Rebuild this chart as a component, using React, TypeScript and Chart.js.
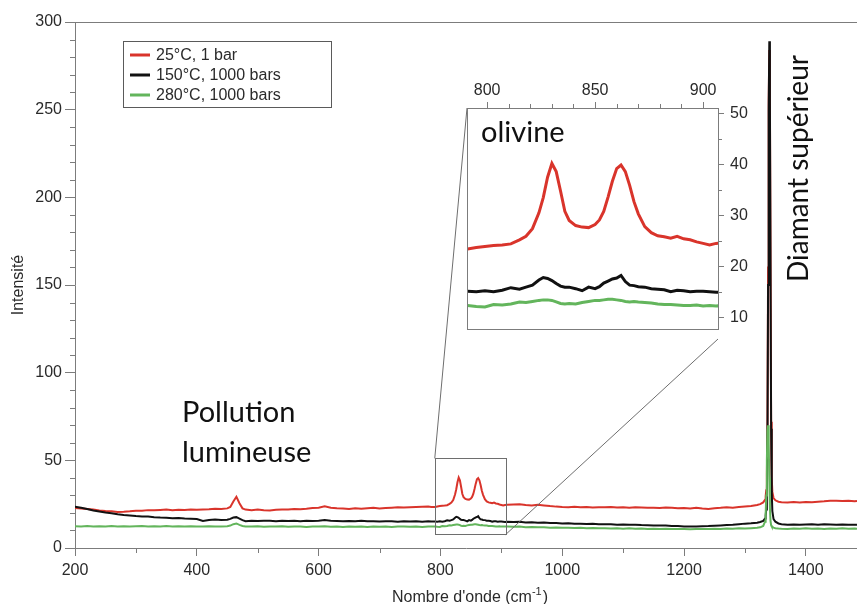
import React, { useEffect, useRef } from 'react';
import { Chart, registerables } from 'chart.js';

Chart.register(...registerables);

// ---------------- DATA ----------------
const wavenumbers = [
  200, 210, 220, 230, 240, 250, 260, 270, 280, 290,
  300, 310, 320, 330, 340, 350, 360, 370, 380, 390,
  400, 410, 420, 430, 440, 450, 455, 460, 465, 470, 475,
  480, 490, 500, 510, 520, 530, 540, 550, 560, 570,
  580, 590, 600, 610, 620, 630, 640, 650, 660, 670,
  680, 690, 700, 710, 720, 730, 740, 750, 760, 770, 780, 785,
  791, 795, 799, 803, 807, 811, 815, 818, 821, 824, 826,
  828, 830, 832, 834, 836, 838, 841, 844, 847, 850, 852,
  854, 856, 858, 860, 862, 864, 866, 868, 870, 873, 876,
  879, 882, 885, 888, 891, 894, 897, 900, 903, 906,
  910, 920, 930, 940, 950, 960, 970, 980, 990, 1000,
  1010, 1020, 1030, 1040, 1050, 1060, 1070, 1080, 1090, 1100,
  1110, 1120, 1130, 1140, 1150, 1160, 1170, 1180, 1190, 1200,
  1210, 1220, 1230, 1240, 1250, 1260, 1270, 1280, 1290, 1300,
  1310, 1320, 1325, 1330, 1333, 1334, 1335, 1336, 1337, 1338, 1339,
  1340, 1341, 1342, 1343, 1344, 1345, 1347, 1350, 1355,
  1360, 1370, 1380, 1390, 1400, 1410, 1420, 1430, 1440, 1450, 1460, 1470, 1480, 1484,
];

const intensity25C = [
  22.8, 22.5, 22.2, 21.9, 21.4, 21.1, 20.9, 20.6, 20.7, 20.9,
  21.3, 21.2, 21.6, 21.5, 21.7, 21.9, 21.6, 21.8, 21.7, 21.9,
  21.8, 22.0, 22.1, 22.4, 22.2, 22.6, 23.4, 26.5, 29.2, 25.5, 22.6,
  21.9, 21.6, 21.9, 21.5, 21.4, 21.8, 22.0, 21.9, 22.3, 22.1,
  22.4, 22.8, 23.0, 23.8, 23.0, 22.7, 22.5, 22.3, 22.6, 22.4,
  22.7, 22.9, 22.6, 22.8, 23.0, 23.2, 23.1, 23.3, 23.4, 23.5, 23.6, 23.4,
  23.4, 23.7, 23.9, 24.1, 24.2, 24.4, 25.2, 25.9, 27.4, 30.5, 33.5,
  37.5, 40.2, 38.6, 34.8, 30.8, 29.0, 28.0, 27.7, 27.6, 28.2, 29.1,
  30.8, 33.6, 36.7, 39.2, 39.9, 38.6, 35.9, 32.7, 30.3, 27.8, 26.6,
  26.0, 25.8, 25.5, 25.9, 25.4, 25.2, 24.8, 24.5, 24.2, 24.5,
  24.6, 24.8, 25.0, 24.5, 24.3, 24.6, 24.3, 23.9, 23.6, 23.4,
  23.3, 23.5, 23.2, 23.4, 23.1, 23.3, 23.2, 23.4, 23.1, 23.3,
  23.0, 23.2, 23.1, 22.9, 23.0, 22.8, 23.1, 22.9, 22.7, 22.8,
  22.6, 22.9, 22.5, 22.3, 22.7, 22.9, 23.2, 23.0, 23.4, 23.7,
  24.0, 24.5, 25.0, 26.0, 27.5, 29.5, 33.0, 42.0, 70.0, 160, 255,
  284, 258, 165, 72, 40, 32, 28.5, 27.2, 26.4,
  26.1, 26.0, 26.2, 26.0, 26.3, 26.1, 26.4, 26.6, 27.0, 26.9, 26.8, 26.9, 26.7, 26.8,
];

const intensity150C = [
  23.6, 22.9, 22.2, 21.4, 20.8, 20.2, 19.8, 19.2, 18.8, 18.6,
  18.2, 18.0, 17.9, 17.6, 17.4, 17.3, 17.0, 17.1, 16.8, 16.7,
  16.5, 15.4, 16.0, 16.2, 16.0, 16.1, 16.6, 17.4, 17.6, 16.8, 15.9,
  15.3, 15.6, 15.4, 15.6, 15.5, 15.3, 15.6, 15.4, 15.6, 15.3,
  15.5, 15.4, 15.6, 15.9, 15.5, 15.4, 15.2, 15.4, 15.3, 15.5,
  15.2, 15.3, 15.1, 15.3, 15.2, 15.0, 15.3, 15.1, 15.2, 15.0, 15.2, 15.1,
  15.1, 15.0, 15.2, 15.0, 15.3, 15.8, 15.5, 15.9, 16.3, 17.3, 17.8,
  17.6, 17.2, 16.6, 16.1, 15.9, 15.9, 15.6, 15.2, 15.9, 15.6, 16.0,
  16.7, 17.1, 17.5, 17.7, 18.2, 17.0, 16.3, 16.2, 16.0, 15.9, 15.6,
  15.5, 15.4, 15.0, 15.3, 15.2, 15.0, 15.1, 15.1, 15.0, 14.9,
  15.0, 14.8, 14.9, 14.6, 14.7, 14.4, 14.5, 14.3, 14.2, 14.0,
  14.1, 13.8, 13.9, 13.7, 13.8, 13.6, 13.5, 13.6, 13.3, 13.4,
  13.2, 13.3, 13.1, 13.0, 12.9, 12.8, 12.9, 12.6, 12.5, 12.3,
  12.2, 12.3, 12.4, 12.5, 12.7, 12.9, 13.1, 13.3, 13.6, 13.9,
  14.1, 14.4, 14.8, 15.5, 16.8, 18.5, 22.0, 30.0, 60.0, 150, 250,
  289, 255, 160, 68, 32, 21, 16.5, 15.0, 14.0,
  13.6, 13.3, 13.4, 13.2, 13.4, 13.5, 13.3, 13.5, 13.4, 13.2, 13.4, 13.3, 13.2, 13.3,
];

const intensity280C = [
  12.4, 12.3, 12.5, 12.2, 12.4, 12.3, 12.5, 12.3, 12.4, 12.2,
  12.4, 12.6, 12.3, 12.4, 12.2, 12.5, 12.3, 12.4, 12.2, 12.4,
  12.3, 12.2, 12.4, 12.3, 12.2, 12.4, 12.8, 13.6, 14.0, 13.2, 12.6,
  12.3, 12.2, 12.4, 12.1, 12.3, 12.2, 12.4, 12.1, 12.3, 12.2,
  12.0, 12.3, 12.2, 12.4, 12.1, 12.2, 12.0, 12.3, 12.1, 12.2,
  12.0, 12.3, 12.1, 12.2, 12.0, 12.2, 12.3, 12.1, 12.2, 12.0, 12.2, 12.3,
  12.3, 12.1, 12.0, 12.5, 12.4, 12.6, 13.0, 12.9, 13.1, 13.3, 13.4,
  13.4, 13.3, 13.0, 12.7, 12.6, 12.7, 12.6, 12.9, 13.1, 13.3, 13.3,
  13.4, 13.5, 13.5, 13.4, 13.3, 13.1, 13.0, 13.1, 13.0, 12.9, 12.8,
  12.6, 12.5, 12.5, 12.4, 12.3, 12.3, 12.4, 12.2, 12.3, 12.2,
  12.3, 12.1, 12.2, 11.9, 12.0, 11.8, 11.9, 11.6, 11.7, 11.5,
  11.6, 11.4, 11.5, 11.3, 11.4, 11.2, 11.3, 11.1, 11.2, 11.0,
  11.2, 11.0, 11.1, 10.9, 11.0, 10.8, 11.0, 10.9, 10.8, 10.9,
  10.7, 10.9, 10.8, 10.9, 11.0, 10.9, 11.1, 11.0, 11.2, 11.1,
  11.3, 11.5, 11.8, 12.6, 15.0, 19.0, 30.0, 50.0, 67.0, 70.0, 60.0,
  40.0, 23.0, 15.5, 13.0, 12.3, 12.0, 11.6, 11.3, 11.1,
  11.0, 10.9, 11.1, 11.0, 11.2, 11.0, 11.1, 10.9, 11.1, 11.0, 11.2, 11.0, 11.1, 11.0,
];

const seriesLabels = ['25°C, 1 bar', '150°C, 1000 bars', '280°C, 1000 bars'];
const seriesColors = ['#d9342b', '#111111', '#63b55c'];

const mainXTicks = [200, 400, 600, 800, 1000, 1200, 1400];
const mainYTicks = [0, 50, 100, 150, 200, 250, 300];
const insetXTicks = [800, 850, 900];
const insetYTicks = [10, 20, 30, 40, 50];

const mainXRange = [200, 1484];
const mainYRange = [0, 300];
const zoomXRange = [790.7, 906.9];
const zoomYRange = [7.6, 51.1];

const xTitle = "Nombre d'onde (cm";
const xTitleSup = '-1';
const yTitle = 'Intensité';
const insetLabel = 'olivine';
const pollutionLines = ['Pollution', 'lumineuse'];
const diamondLabel = 'Diamant supérieur';

// ---------------- STYLE / LAYOUT ----------------
const W = 857;
const H = 604;
const AXIS = '#7c7c7c';
const TEXT = '#2a2a2a';
const SANS = '"Liberation Sans", Arial, Helvetica, sans-serif';
const HUMAN = 'Lato, "Open Sans", sans-serif';

const INSET = { left: 460, top: 80, width: 300, height: 265, padLeft: 7, padBottom: 6, topAxis: 28, rightAxis: 42 };
const insetBox = {
  left: INSET.left + INSET.padLeft,
  top: INSET.top + INSET.topAxis,
  right: INSET.left + INSET.width - INSET.rightAxis,
  bottom: INSET.top + INSET.height - INSET.padBottom,
};

const plainNumber = (v: any) => String(v);

function toPoints(values: number[]) {
  return wavenumbers.map((w, i) => ({ x: w, y: values[i] }));
}

function makeDatasets(width: number, clip?: number) {
  const vals = [intensity25C, intensity150C, intensity280C];
  return vals.map((v, i) => ({
    label: seriesLabels[i],
    data: toPoints(v),
    borderColor: seriesColors[i],
    backgroundColor: seriesColors[i],
    borderWidth: width,
    pointRadius: 0,
    tension: 0,
    fill: false,
    order: 2 - i,
    ...(clip !== undefined ? { clip } : {}),
  }));
}

function seg(ctx: CanvasRenderingContext2D, x1: number, y1: number, x2: number, y2: number) {
  ctx.beginPath();
  ctx.moveTo(x1, y1);
  ctx.lineTo(x2, y2);
  ctx.stroke();
}

const mainDecor = {
  id: 'mainDecor',
  afterDraw(chart: any) {
    const { ctx, chartArea: a } = chart;
    const x = chart.scales.x;
    const y = chart.scales.y;
    ctx.save();
    ctx.strokeStyle = AXIS;
    ctx.lineWidth = 1;
    // top frame
    seg(ctx, a.left, Math.round(a.top) + 0.5, a.right, Math.round(a.top) + 0.5);
    // minor ticks
    for (let v = mainXRange[0] + 100; v < mainXRange[1]; v += 200) {
      const px = Math.round(x.getPixelForValue(v)) + 0.5;
      seg(ctx, px, a.bottom, px, a.bottom + 5);
    }
    for (let v = mainYRange[0] + 10; v < mainYRange[1]; v += 10) {
      if (v % 50 === 0) continue;
      const py = Math.round(y.getPixelForValue(v)) + 0.5;
      seg(ctx, a.left - 5, py, a.left, py);
    }
    // zoom window rectangle + connectors
    ctx.strokeStyle = '#6e6e6e';
    const rx1 = x.getPixelForValue(zoomXRange[0]);
    const rx2 = x.getPixelForValue(zoomXRange[1]);
    const ry1 = y.getPixelForValue(zoomYRange[1]);
    const ry2 = y.getPixelForValue(zoomYRange[0]);
    ctx.strokeRect(Math.round(rx1) + 0.5, Math.round(ry1) + 0.5, Math.round(rx2 - rx1), Math.round(ry2 - ry1));
    seg(ctx, rx1, ry1, insetBox.left, insetBox.top);
    seg(ctx, rx2, ry2, insetBox.right, insetBox.bottom);

    // legend
    const lg = { left: 123.5, top: 41.5, w: 208, h: 66 };
    ctx.fillStyle = '#fff';
    ctx.fillRect(lg.left, lg.top, lg.w, lg.h);
    ctx.strokeStyle = '#5a5a5a';
    ctx.strokeRect(lg.left, lg.top, lg.w, lg.h);
    ctx.font = `16px ${SANS}`;
    ctx.textBaseline = 'middle';
    ctx.textAlign = 'left';
    seriesLabels.forEach((lab, i) => {
      const ly = 55 + i * 20;
      ctx.strokeStyle = seriesColors[i];
      ctx.lineWidth = 3;
      seg(ctx, 130, ly, 150, ly);
      ctx.fillStyle = TEXT;
      ctx.fillText(lab, 156, ly + 1);
    });

    // annotations
    ctx.fillStyle = '#111';
    ctx.font = `29px ${HUMAN}`;
    ctx.textBaseline = 'alphabetic';
    ctx.fillText(pollutionLines[0], 182, 422);
    ctx.fillText(pollutionLines[1], 182, 462);
    ctx.save();
    ctx.translate(808, 282);
    ctx.rotate(-Math.PI / 2);
    ctx.font = `28px ${HUMAN}`;
    ctx.fillText(diamondLabel, 0, 0);
    ctx.restore();

    // axis titles
    ctx.fillStyle = TEXT;
    ctx.font = `16px ${SANS}`;
    ctx.textBaseline = 'alphabetic';
    const wMain = ctx.measureText(xTitle).width;
    ctx.font = `11px ${SANS}`;
    const wSup = ctx.measureText(xTitleSup).width;
    ctx.font = `16px ${SANS}`;
    const wClose = ctx.measureText(')').width;
    const total = wMain + wSup + 1 + wClose;
    const cx = (a.left + a.right) / 2 + 4;
    let tx = cx - total / 2;
    const ty = 602;
    ctx.fillText(xTitle, tx, ty);
    tx += wMain;
    ctx.font = `11px ${SANS}`;
    ctx.fillText(xTitleSup, tx, ty - 7);
    tx += wSup + 1;
    ctx.font = `16px ${SANS}`;
    ctx.fillText(')', tx, ty);

    ctx.save();
    ctx.translate(19, (a.top + a.bottom) / 2);
    ctx.rotate(-Math.PI / 2);
    ctx.textAlign = 'center';
    ctx.textBaseline = 'middle';
    ctx.font = `16px ${SANS}`;
    ctx.fillText(yTitle, 0, 0);
    ctx.restore();
    ctx.restore();
  },
};

const insetDecor = {
  id: 'insetDecor',
  beforeDatasetsDraw(chart: any) {
    const { ctx, chartArea: a } = chart;
    ctx.save();
    ctx.fillStyle = '#fff';
    ctx.fillRect(a.left, a.top, a.right - a.left, a.bottom - a.top);
    ctx.restore();
  },
  afterDraw(chart: any) {
    const { ctx, chartArea: a } = chart;
    const x = chart.scales.x;
    const y = chart.scales.y;
    ctx.save();
    ctx.strokeStyle = AXIS;
    ctx.lineWidth = 1;
    ctx.strokeRect(Math.round(a.left) + 0.5, Math.round(a.top) + 0.5, Math.round(a.right - a.left), Math.round(a.bottom - a.top));
    for (let v = 810; v < 906; v += 10) {
      if (v % 50 === 0) continue;
      const px = Math.round(x.getPixelForValue(v)) + 0.5;
      seg(ctx, px, a.top - 4, px, a.top);
    }
    for (let v = 15; v < 51; v += 10) {
      const py = Math.round(y.getPixelForValue(v)) + 0.5;
      seg(ctx, a.right, py, a.right + 4, py);
    }
    ctx.fillStyle = '#111';
    ctx.font = `29px ${HUMAN}`;
    ctx.textBaseline = 'alphabetic';
    ctx.textAlign = 'left';
    ctx.fillText(insetLabel, a.left + 14, a.top + 34);
    ctx.restore();
  },
};

export default function App() {
  const mainRef = useRef<HTMLCanvasElement | null>(null);
  const insetRef = useRef<HTMLCanvasElement | null>(null);

  useEffect(() => {
    if (!mainRef.current || !insetRef.current) return;
    const tickFont = { family: SANS, size: 16 };

    const main = new Chart(mainRef.current, {
      type: 'line',
      data: { datasets: makeDatasets(2) as any },
      options: {
        animation: false,
        responsive: false,
        devicePixelRatio: 1,
        layout: { padding: { top: 22, right: 0, bottom: 0, left: 0 } },
        plugins: { legend: { display: false }, tooltip: { enabled: false } },
        scales: {
          x: {
            type: 'linear',
            position: 'bottom',
            min: mainXRange[0],
            max: mainXRange[1],
            afterBuildTicks: (s: any) => { s.ticks = mainXTicks.map((v) => ({ value: v })); },
            afterFit: (s: any) => { s.height = 56; },
            grid: { drawOnChartArea: false, drawTicks: true, tickLength: 8, color: AXIS },
            border: { display: true, color: AXIS, width: 1 },
            ticks: { font: tickFont, color: TEXT, padding: 5, maxRotation: 0, autoSkip: false, callback: plainNumber },
          },
          y: {
            type: 'linear',
            position: 'left',
            min: mainYRange[0],
            max: mainYRange[1],
            afterBuildTicks: (s: any) => { s.ticks = mainYTicks.map((v) => ({ value: v })); },
            afterFit: (s: any) => { s.width = 75; },
            grid: { drawOnChartArea: false, drawTicks: true, tickLength: 10, color: AXIS },
            border: { display: true, color: AXIS, width: 1 },
            ticks: { font: tickFont, color: TEXT, padding: 3, autoSkip: false, callback: plainNumber },
          },
        },
      } as any,
      plugins: [mainDecor],
    });

    const inset = new Chart(insetRef.current, {
      type: 'line',
      data: { datasets: makeDatasets(3, 0) as any },
      options: {
        animation: false,
        responsive: false,
        devicePixelRatio: 1,
        layout: { padding: { top: 0, right: 0, bottom: INSET.padBottom, left: INSET.padLeft } },
        plugins: { legend: { display: false }, tooltip: { enabled: false } },
        scales: {
          x: {
            type: 'linear',
            position: 'top',
            min: zoomXRange[0],
            max: zoomXRange[1],
            afterBuildTicks: (s: any) => { s.ticks = insetXTicks.map((v) => ({ value: v })); },
            afterFit: (s: any) => { s.height = INSET.topAxis; },
            grid: { drawOnChartArea: false, drawTicks: true, tickLength: 6, color: AXIS },
            border: { display: true, color: AXIS, width: 1 },
            ticks: { font: tickFont, color: TEXT, padding: 2, maxRotation: 0, autoSkip: false, callback: plainNumber },
          },
          y: {
            type: 'linear',
            position: 'right',
            min: zoomYRange[0],
            max: zoomYRange[1],
            afterBuildTicks: (s: any) => { s.ticks = insetYTicks.map((v) => ({ value: v })); },
            afterFit: (s: any) => { s.width = INSET.rightAxis; },
            grid: { drawOnChartArea: false, drawTicks: true, tickLength: 6, color: AXIS },
            border: { display: true, color: AXIS, width: 1 },
            ticks: { font: tickFont, color: TEXT, padding: 6, autoSkip: false, callback: plainNumber },
          },
        },
      } as any,
      plugins: [insetDecor],
    });

    return () => {
      main.destroy();
      inset.destroy();
    };
  }, []);

  return (
    <div style={{ position: 'absolute', left: 0, top: 0, width: W, height: H, overflow: 'hidden', background: '#fff' }}>
      <canvas ref={mainRef} width={W} height={H} style={{ position: 'absolute', left: 0, top: 0 }} />
      <canvas
        ref={insetRef}
        width={INSET.width}
        height={INSET.height}
        style={{ position: 'absolute', left: INSET.left, top: INSET.top }}
      />
    </div>
  );
}
